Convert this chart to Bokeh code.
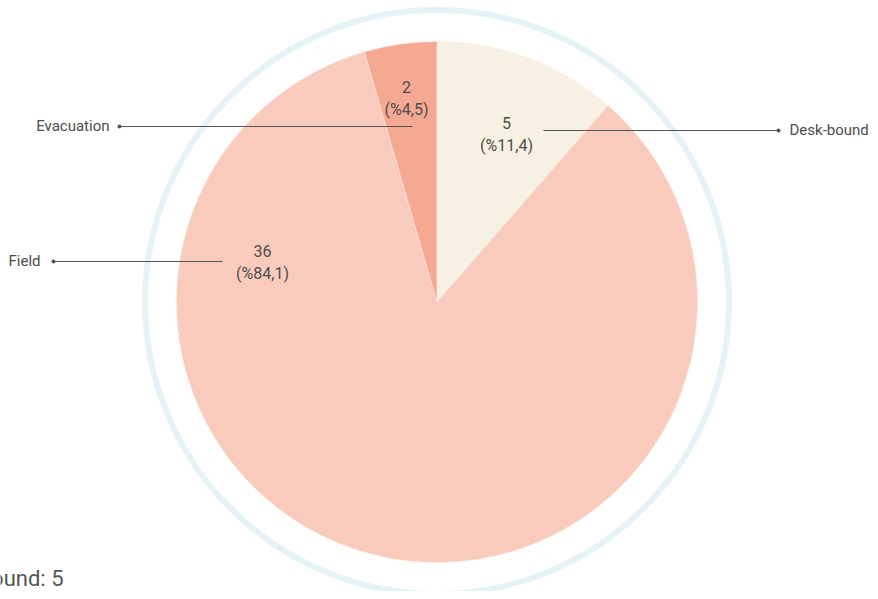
import math
from bokeh.plotting import figure
from bokeh.models import Range1d, ColumnDataSource
from bokeh.core.properties import value
from bokeh.embed import file_html
from bokeh.resources import INLINE

# ---- data ----
categories = ["Desk-bound", "Field", "Evacuation"]
counts = [5, 36, 2]
percents = [11.4, 84.1, 4.5]
pct_labels = ["(%11,4)", "(%84,1)", "(%4,5)"]
colors = ["#f7f1e3", "#f9cbbd", "#f6a992"]
tooltip_text = "Desk-bound: 5"

# ---- layout (pixel coordinates of the picture) ----
W, H = 870, 591
def py(y):  # picture y (down) -> data y (up)
    return H - y

cx, cy, R = 436.5, py(301.5), 260.5
ring_r = 292

# label layout: inner label centre, leader-line y, inner/outer x, name x, side
lab_x = [506, 262, 406]
lab_y = [133, 261, 97]
line_y = [130, 261, 126]
line_in = [543, 222, 412]
line_out = [778, 53, 119]
name_x = [789, 40, 109]
side = ["left", "right", "right"]

p = figure(width=W, height=H, output_backend="svg", toolbar_location=None,
           x_range=Range1d(0, W), y_range=Range1d(0, H),
           min_border=0, outline_line_color=None)
p.axis.visible = False
p.grid.visible = False
p.background_fill_color = "white"
p.border_fill_color = "white"

# outer ring
p.circle(x=[cx], y=[cy], radius=ring_r, fill_color=None, line_color="#e6f3f6", line_width=6)

# wedges: start at top, clockwise
total = sum(percents)
starts, ends = [], []
acc = 0.0
for v in percents:
    a0 = math.pi / 2 - 2 * math.pi * acc / total
    acc += v
    a1 = math.pi / 2 - 2 * math.pi * acc / total
    starts.append(a1)
    ends.append(a0)
src = ColumnDataSource(dict(start=starts, end=ends, color=colors))
p.wedge(x=cx, y=cy, radius=R, start_angle="start", end_angle="end",
        fill_color="color", line_color="#fbe9e2", line_width=0.6, source=src)

font = value("Roboto")
tc = "#4d4d4d"
for i in range(len(categories)):
    # inner labels
    p.text(x=[lab_x[i]], y=[py(lab_y[i] - 11)], text=[str(counts[i])], text_font=font,
           text_font_size="16px", text_color=tc, text_align="center", text_baseline="middle")
    p.text(x=[lab_x[i]], y=[py(lab_y[i] + 12)], text=[pct_labels[i]], text_font=font,
           text_font_size="16px", text_color=tc, text_align="center", text_baseline="middle")
    # leader line
    p.line(x=[line_in[i], line_out[i]], y=[py(line_y[i])] * 2, line_color="#555555", line_width=1)
    p.scatter(x=[line_out[i]], y=[py(line_y[i])], size=4, marker="circle",
              fill_color="#555555", line_color=None)
    p.text(x=[name_x[i]], y=[py(line_y[i] - 1)], text=[categories[i]], text_font=font,
           text_font_size="15px", text_color=tc, text_align=side[i], text_baseline="middle")

# tooltip-like text in lower left, partly outside the view as in the original
p.text(x=[63], y=[py(578)], text=[tooltip_text], text_font=font, text_font_size="22px",
       text_color="#555555", text_align="right", text_baseline="middle")

open("out.html", "w").write(file_html(p, INLINE))
